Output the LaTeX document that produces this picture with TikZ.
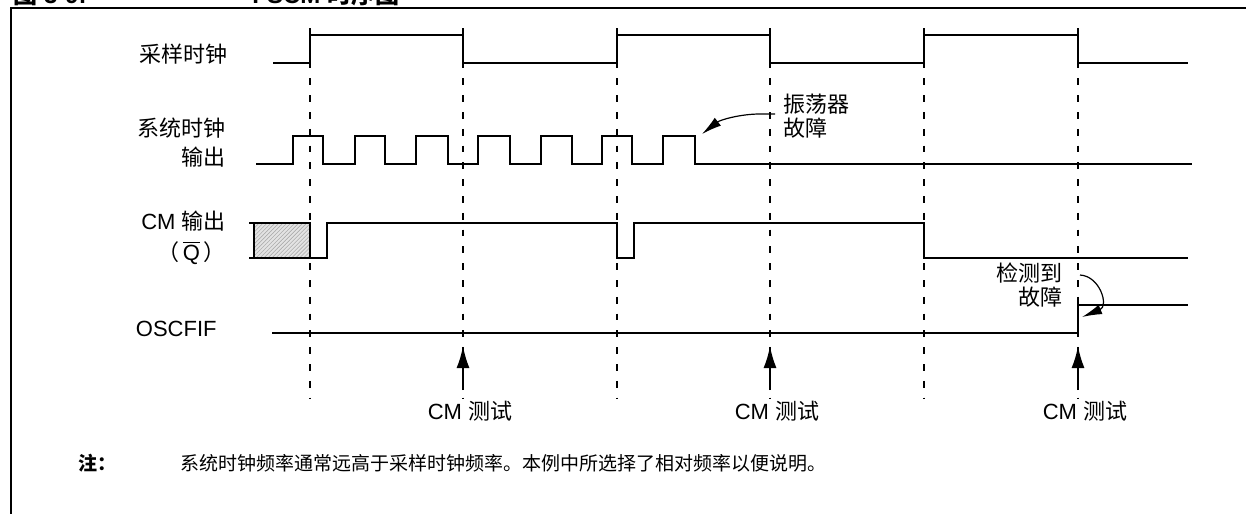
\documentclass[tikz,border=0pt]{standalone}
\usepackage{fontspec}
\setmainfont{Liberation Sans}
\newfontfamily\cjk{Noto Sans CJK SC}
\usetikzlibrary{arrows.meta, patterns.meta, positioning}
\tikzset{
    wave/.style={line width=1pt, line join=miter},
    guide/.style={line width=1pt, dash pattern=on 3.4pt off 5pt},
    frame/.style={line width=1.2pt},
    siglabel/.style={
        anchor=east, align=right, inner sep=0pt,
        font=\fontsize{11}{14.5}\selectfont
    },
    calltext/.style={inner sep=0pt, font=\fontsize{11}{12}\selectfont\cjk},
    testlabel/.style={inner sep=0pt, font=\fontsize{11}{12}\selectfont},
    notetext/.style={anchor=west, inner sep=0pt, font=\fontsize{9.5}{11}\selectfont\cjk},
    figtitle/.style={anchor=base west, inner sep=0pt, font=\fontsize{12}{14}\selectfont\bfseries},
    testarrow/.style={-{Latex[length=11pt, width=6.5pt]}, line width=1pt},
    callout/.style={-{Latex[length=10pt, width=5pt]}, line width=0.6pt},
    hatch/.style={
        preaction={fill=gray!22},
        pattern={Lines[angle=45, distance=1.4pt, line width=0.3pt]},
        pattern color=gray!65
    }
}

\begin{document}
\begin{tikzpicture}[x=0.5pt, y=-0.5pt]
    \useasboundingbox (0,0) rectangle (1246,514);

    \node[figtitle] (fignum) at (13,3.5) {{\cjk 图} 3-9:};
    \node[figtitle] (figname) at (252,3.5) {FSCM {\cjk 时序图}};
    \draw[frame] (1246,8) -- (11,8) -- (11,514);

    \node[siglabel] (sample) at (228,54) {\cjk 采样时钟};
    \node[siglabel] (sysclk) at (226,142.5) {\cjk 系统时钟\\\cjk 输出};
    \node[siglabel, font=\fontsize{11}{15.5}\selectfont] (cmout) at (226,237.5)
        {CM {\cjk 输出}\\{\cjk （}\,$\overline{\mbox{Q}}$\,{\cjk ）}};
    \node[siglabel] (oscfif) at (217,329) {OSCFIF};

    \draw[guide] (310,28) -- (310,398);
    \draw[guide] (463,28) -- (463,398);
    \draw[guide] (617,28) -- (617,398);
    \draw[guide] (770,28) -- (770,398);
    \draw[guide] (924,28) -- (924,398);
    \draw[guide] (1078,28) -- (1078,398);

    \draw[wave] (273,63) -- (310,63) -- (310,35) -- (463,35) -- (463,63)
        -- (617,63) -- (617,35) -- (770,35) -- (770,63) -- (924,63)
        -- (924,35) -- (1078,35) -- (1078,63) -- (1188,63);

    \draw[wave] (256,164) -- (293,164) -- (293,136) -- (323,136) -- (323,164)
        -- (355,164) -- (355,136) -- (385,136) -- (385,164)
        -- (416,164) -- (416,136) -- (448,136) -- (448,164)
        -- (478,164) -- (478,136) -- (510,136) -- (510,164)
        -- (541,164) -- (541,136) -- (572,136) -- (572,164)
        -- (602,164) -- (602,136) -- (632,136) -- (632,164)
        -- (663,164) -- (663,136) -- (695,136) -- (695,164) -- (1192,164);

    \draw[wave, hatch] (254,223) rectangle (310,258);
    \draw[wave] (249,223) -- (254,223);
    \draw[wave] (249,258) -- (327,258) -- (327,223) -- (617,223) -- (617,258)
        -- (634,258) -- (634,223) -- (924,223) -- (924,258) -- (1188,258);

    \draw[wave] (272,333) -- (1078,333) -- (1078,305) -- (1188,305);

    \node[calltext, anchor=west, align=left] (oscfail) at (783,116) {振荡器\\故障};
    \coordinate (oscstop) at (702,134);
    \draw[callout] ([xshift=-4pt, yshift=1pt]oscfail.west) -- ++(-15,0)
        .. controls (740,114) and (720,120) .. (oscstop);

    \node[calltext, anchor=east, align=right] (detect) at (1063,285) {检测到\\故障};
    \coordinate (detstart) at (1080,275);
    \coordinate (detstop) at (1082,317);
    \draw[callout] (detstart) .. controls (1100,276) and (1109,306) .. (detstop);

    \coordinate (tail1) at (463,390);
    \coordinate (tip1) at (463,346);
    \coordinate (tail2) at (770,390);
    \coordinate (tip2) at (770,346);
    \coordinate (tail3) at (1078,390);
    \coordinate (tip3) at (1078,346);
    \draw[testarrow] (tail1) -- (tip1);
    \draw[testarrow] (tail2) -- (tip2);
    \draw[testarrow] (tail3) -- (tip3);
    \node[testlabel] (test1) at (470,411) {CM {\cjk 测试}};
    \node[testlabel] (test2) at (777,411) {CM {\cjk 测试}};
    \node[testlabel] (test3) at (1085,411) {CM {\cjk 测试}};

    \node[notetext, font=\fontsize{9.5}{11}\selectfont\cjk\bfseries] (notemark) at (78,463) {注：};
    \node[notetext] (notebody) at (180,463)
        {系统时钟频率通常远高于采样时钟频率。本例中所选择了相对频率以便说明。};
\end{tikzpicture}
\end{document}
